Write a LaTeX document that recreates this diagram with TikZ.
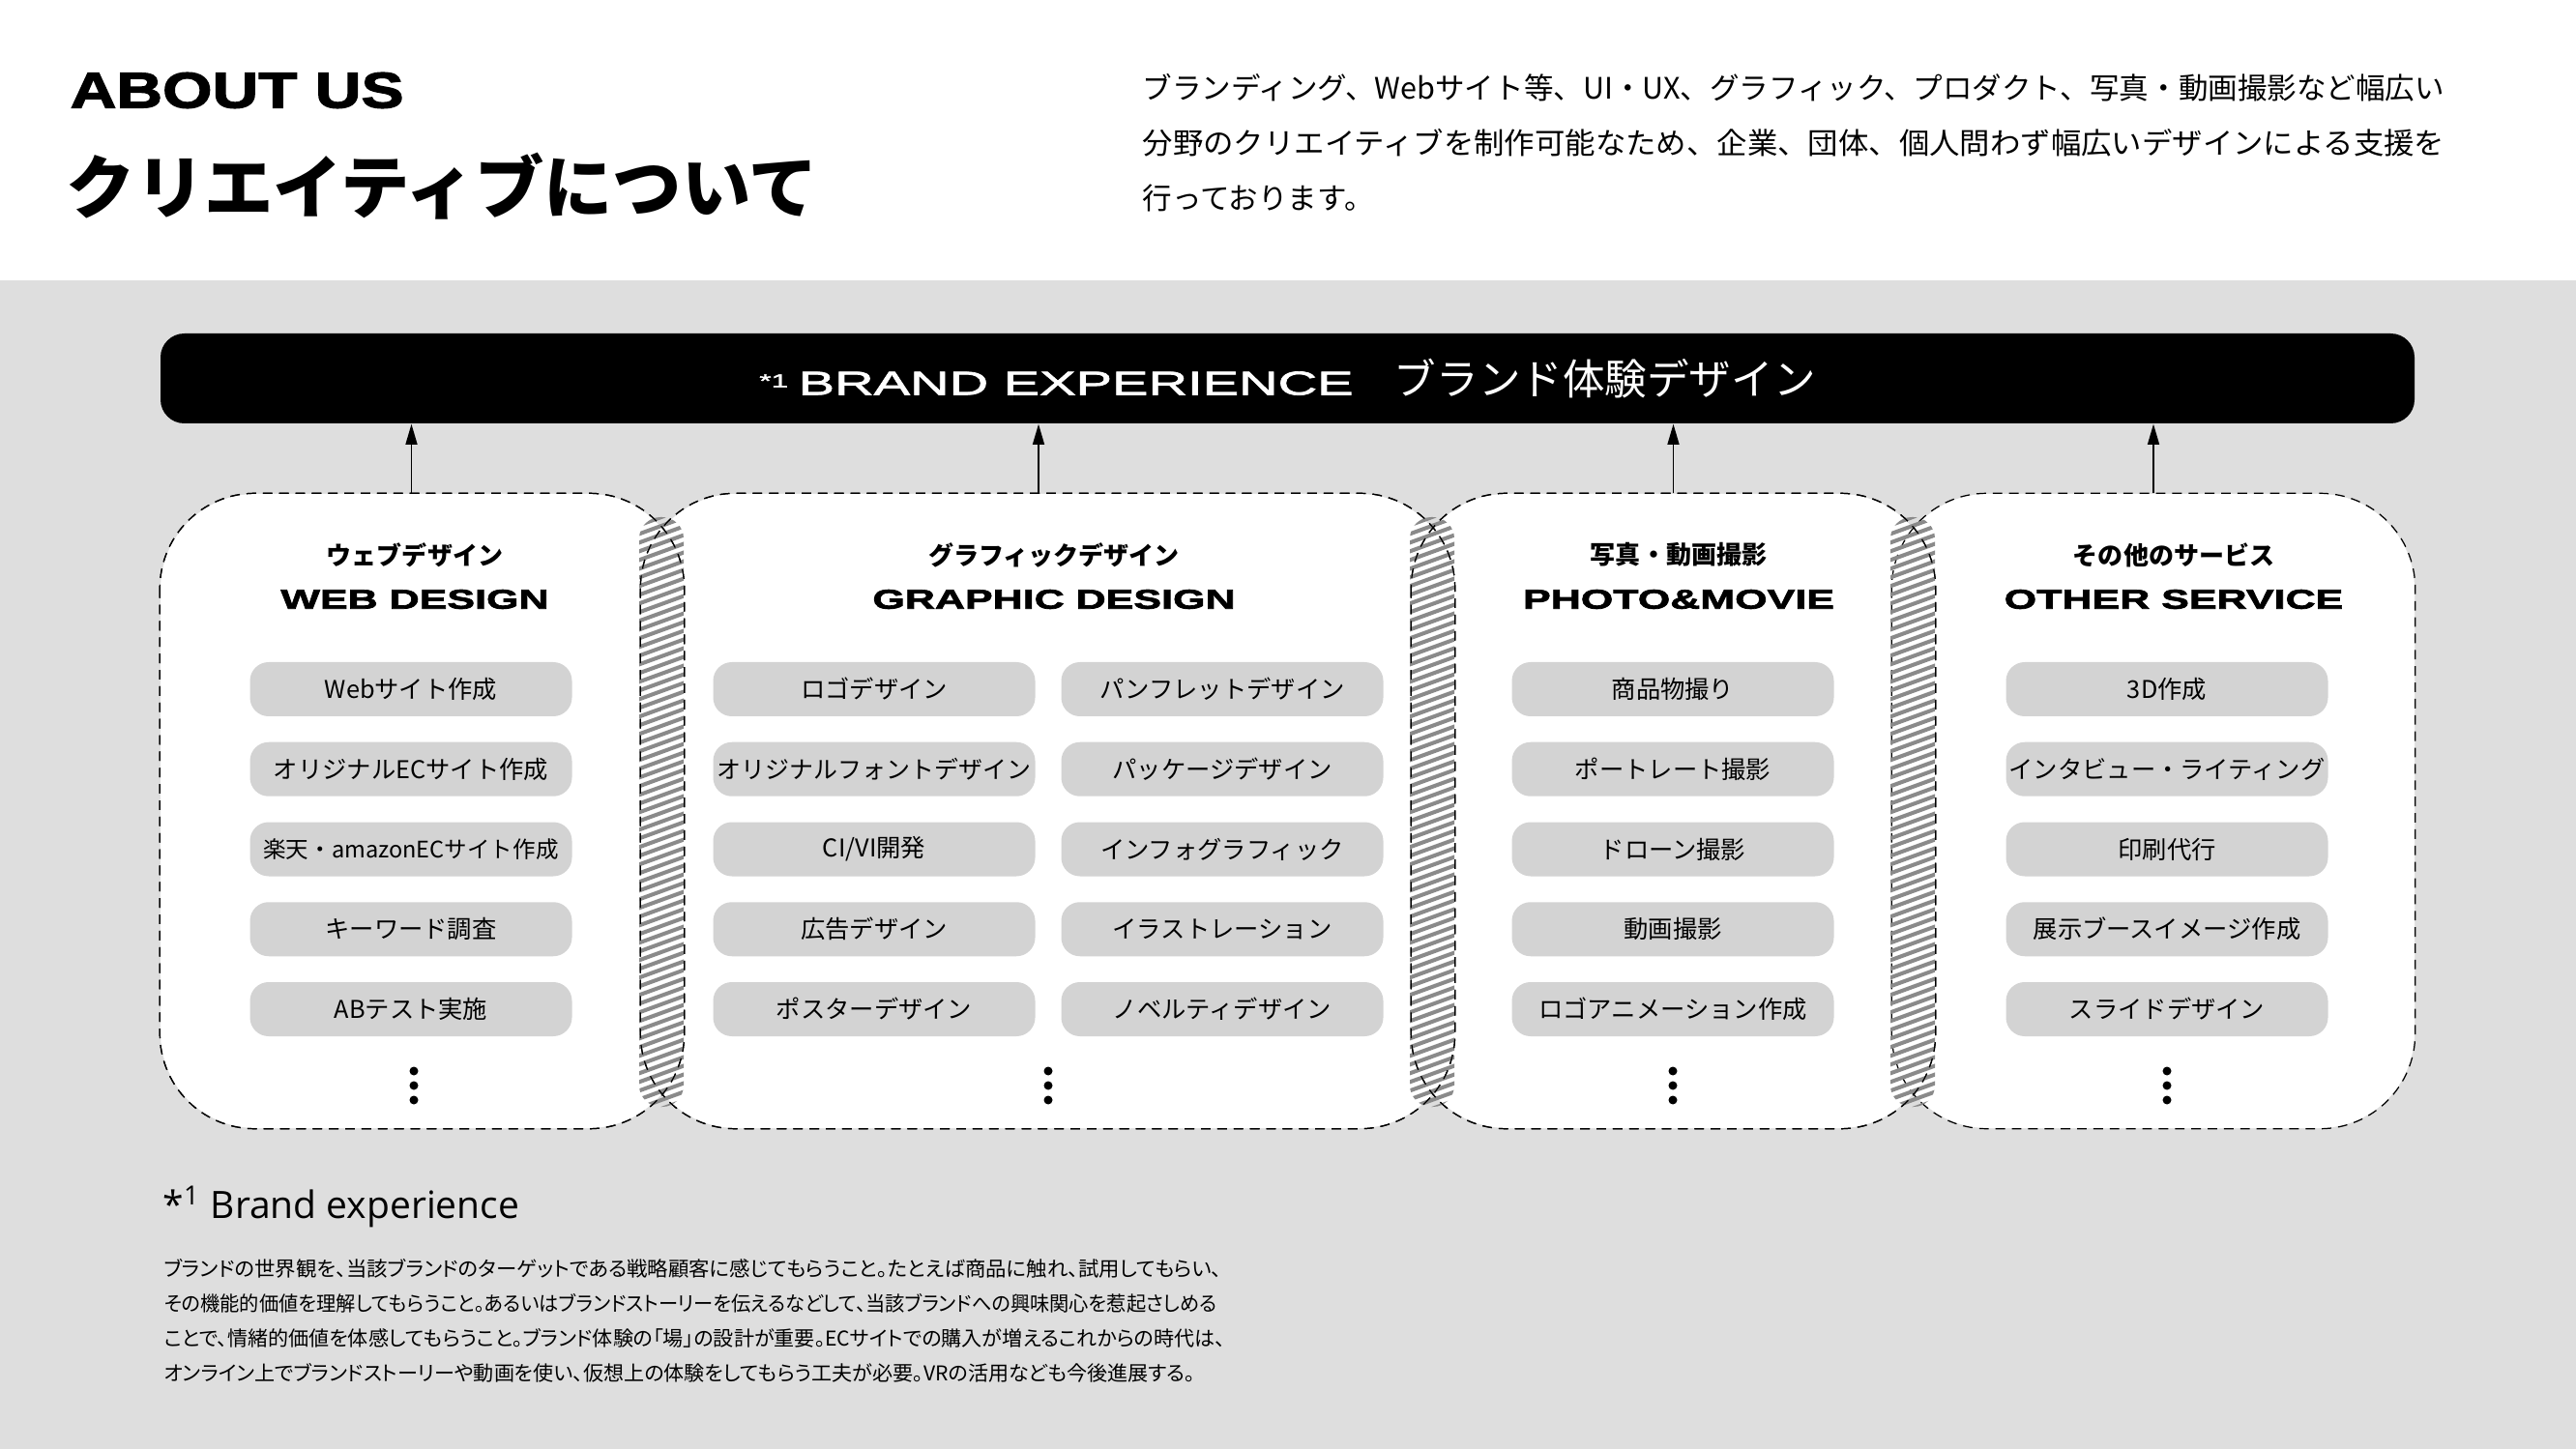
\documentclass[tikz,border=0pt]{standalone}
\usepackage{fontspec}
\setmainfont{Noto Sans CJK JP}
\newfontfamily\jpprop[RawFeature=+palt]{Noto Sans CJK JP}
\newfontfamily\aboutfont[FakeStretch=1.27,FakeBold=2.5]{Liberation Sans}
\newfontfamily\titlefont[FakeStretch=1.53,FakeBold=2.5]{Liberation Sans}
\newfontfamily\barfont[FakeStretch=1.63,FakeBold=2]{Liberation Sans}
\newfontfamily\notefont{Open Sans}
\usetikzlibrary{arrows.meta}
\definecolor{bggray}{HTML}{DEDEDE}
\definecolor{pillgray}{HTML}{D3D3D3}
\definecolor{stripegray}{HTML}{8A8A8A}
\tikzset{
    BOX/.style ={rectangle, rounded corners=28pt, fill=white, minimum width=#1, minimum height=6.56cm, inner sep=0},
    LN/.style ={draw, line width=0.35pt, dash pattern=on 2.8pt off 2pt, rounded corners=28pt},
    PIL/.style ={rectangle, rounded corners=5.5pt, fill=pillgray, minimum width=3.33cm, minimum height=0.56cm, inner sep=0, font=\fontsize{7.2pt}{8pt}\selectfont},
    TJ/.style ={inner sep=0, font=\bfseries\fontsize{7.4pt}{9pt}\selectfont},
    TE/.style ={inner sep=0, font=\titlefont\bfseries\fontsize{8pt}{9pt}\selectfont},
    AR/.style ={-{Triangle[length=6pt,width=3.4pt]}, line width=0.45pt},
    ST/.style ={draw=stripegray, line width=1.15pt}}
\begin{document}
\begin{tikzpicture}[x=1cm,y=-1cm]
    \fill[white] (0,0) rectangle (26.64,14.99);
    \fill[bggray] (0,2.9) rectangle (26.64,14.99);
    \useasboundingbox (0,0) rectangle (26.64,14.99);
    % header
    \node[anchor=west, inner sep=0, font=\aboutfont\bfseries\fontsize{14.8pt}{16pt}\selectfont] (about) at (0.72,0.935) {ABOUT US};
    \node[anchor=west, inner sep=0, font=\bfseries\fontsize{20.3pt}{22pt}\selectfont] (ttl) at (0.68,1.93) {クリエイティブについて};
    \node[anchor=north west, align=left, inner sep=0, font=\fontsize{8.69pt}{16.1pt}\selectfont] (intro) at (11.81,0.76)
        {ブランディング、Webサイト等、UI・UX、グラフィック、プロダクト、写真・動画撮影など幅広い\\
         \scalebox{1.028}[1]{分野のクリエイティブを制作可能なため、企業、団体、個人問わず幅広いデザインによる支援を}\\
         行っております。};
    % bar
    \node[fill=black, rounded corners=7pt, minimum width=23.31cm, minimum height=0.93cm, inner sep=0, text=white] (bar) at (13.315,3.915)
        {\raisebox{1pt}{{\barfont\raisebox{2.2pt}{\fontsize{5.5pt}{5.5pt}\selectfont *1}\hspace{3pt}\fontsize{9.8pt}{10pt}\selectfont BRAND EXPERIENCE}\hspace{12pt}{\fontsize{12.4pt}{14pt}\selectfont ブランド体験デザイン}}};
    % boxes
    \node[BOX=5.41cm] (web) at (4.365,8.39) {};
    \node[BOX=8.41cm] (graphic) at (10.835,8.39) {};
    \node[BOX=5.41cm] (photo) at (17.305,8.39) {};
    \node[BOX=5.40cm] (other) at (22.27,8.39) {};
    \foreach \b in {web,graphic,photo,other}
        \draw[LN] (\b.north west) rectangle (\b.south east);
    % overlaps
    \foreach \xa in {6.61,14.58,19.55}{
        \begin{scope}
            \clip[rounded corners=6.3pt] (\xa,5.35) rectangle ++(0.46,6.1);
            \foreach \k in {0,...,75} \draw[ST] (\xa-0.1,5.2+\k*0.09) -- ++(0.7,-0.255);
        \end{scope}
    }
    \foreach \b in {web,graphic,photo}
        \draw[LN] (\b.north west) rectangle (\b.south east);
    % arrows
    \coordinate (wa) at ([xshift=-1.1mm]web.north);
    \coordinate (ga) at ([xshift=-0.95mm]graphic.north);
    \draw[AR] (wa) -- (wa |- bar.south);
    \draw[AR] (ga) -- (ga |- bar.south);
    \draw[AR] (photo.north) -- (photo.north |- bar.south);
    \draw[AR] (other.north) -- (other.north |- bar.south);
    % titles
    \node[TJ] (webj) at (4.29,5.74) {ウェブデザイン};
    \node[TE] (webe) at (4.29,6.20) {WEB DESIGN};
    \node[TJ] (graphicj) at (10.90,5.74) {グラフィックデザイン};
    \node[TE] (graphice) at (10.90,6.20) {GRAPHIC DESIGN};
    \node[TJ] (photoj) at (17.36,5.74) {写真・動画撮影};
    \node[TE] (photoe) at (17.36,6.20) {PHOTO\&MOVIE};
    \node[TJ] (otherj) at (22.48,5.74) {その他のサービス};
    \node[TE] (othere) at (22.48,6.20) {OTHER SERVICE};
    % items
    \foreach \t [count=\i] in {Webサイト作成,オリジナルECサイト作成,{\fontsize{6.7pt}{8pt}\selectfont 楽天・amazonECサイト作成},キーワード調査,ABテスト実施}
        \node[PIL] (w\i) at (4.25,{7.13+(\i-1)*0.8275}) {\t};
    \foreach \t [count=\i] in {ロゴデザイン,{\fontsize{7.1pt}{8pt}\selectfont オリジナルフォントデザイン},CI/VI開発,広告デザイン,ポスターデザイン}
        \node[PIL] (ga\i) at (9.04,{7.13+(\i-1)*0.8275}) {\t};
    \foreach \t [count=\i] in {パンフレットデザイン,パッケージデザイン,インフォグラフィック,イラストレーション,ノベルティデザイン}
        \node[PIL] (gb\i) at (12.64,{7.13+(\i-1)*0.8275}) {\t};
    \foreach \t [count=\i] in {商品物撮り,ポートレート撮影,ドローン撮影,動画撮影,ロゴアニメーション作成}
        \node[PIL] (p\i) at (17.30,{7.13+(\i-1)*0.8275}) {\t};
    \foreach \t [count=\i] in {3D作成,インタビュー・ライティング,印刷代行,展示ブースイメージ作成,スライドデザイン}
        \node[PIL] (o\i) at (22.41,{7.13+(\i-1)*0.8275}) {\t};
    \foreach \dx in {4.28,10.84,17.30,22.41}
        \foreach \dy in {11.08,11.23,11.38} \fill (\dx,\dy) circle (0.045);
    % footnote
    \node[anchor=west, inner sep=0, font=\notefont\fontsize{11.1pt}{12pt}\selectfont] (note) at (1.68,12.48) {*\textsuperscript{1} Brand experience};
    \node[anchor=north west, align=left, inner sep=0, font=\jpprop\fontsize{6pt}{10.24pt}\selectfont] (notetext) at (1.69,13.02)
        {\scalebox{1.015}[1]{ブランドの世界観を、当該ブランドのターゲットである戦略顧客に感じてもらうこと。たとえば商品に触れ、試用してもらい、}\\
         \scalebox{0.96}[1]{その機能的価値を理解してもらうこと。あるいはブランドストーリーを伝えるなどして、当該ブランドへの興味関心を惹起さしめる}\\
         ことで、情緒的価値を体感してもらうこと。ブランド体験の「場」の設計が重要。ECサイトでの購入が増えるこれからの時代は、\\
         オンライン上でブランドストーリーや動画を使い、仮想上の体験をしてもらう工夫が必要。VRの活用なども今後進展する。};
\end{tikzpicture}
\end{document}
